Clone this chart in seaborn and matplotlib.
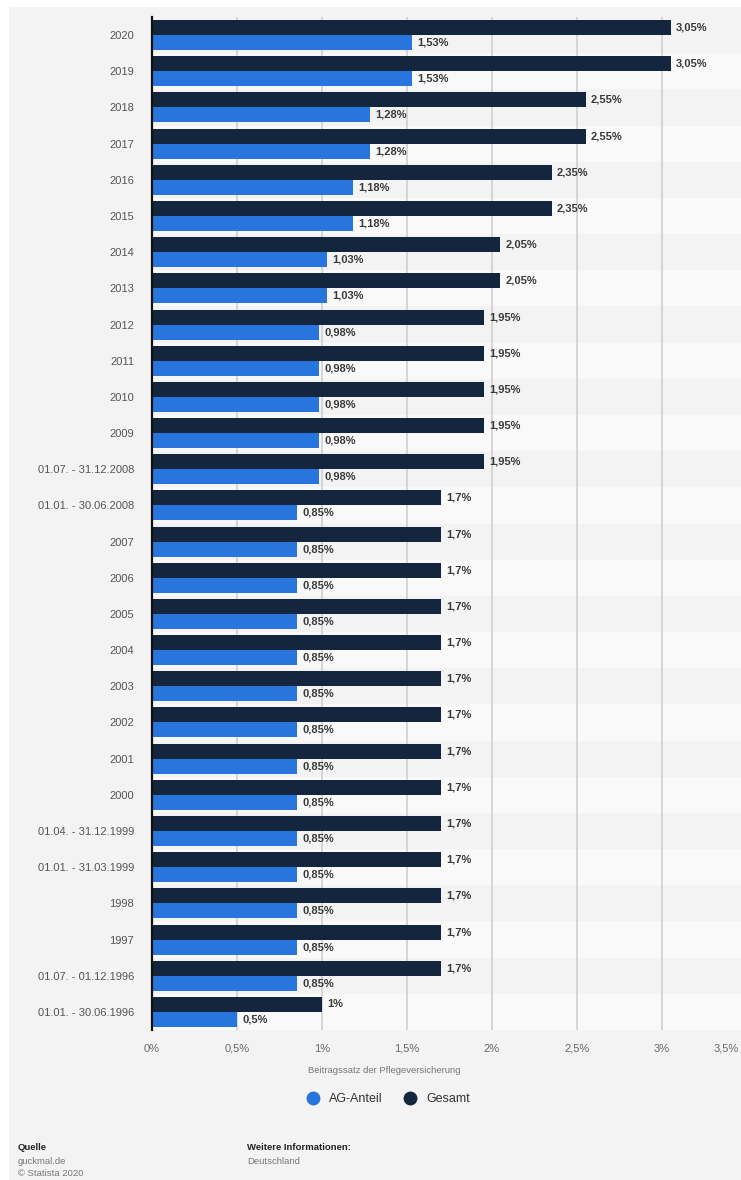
import matplotlib
matplotlib.use("Agg")
import matplotlib.pyplot as plt
from matplotlib.patches import Rectangle
from matplotlib.lines import Line2D
import seaborn as sns
import pandas as pd

# Beitragssatz der Pflegeversicherung, Zeitraeume von oben nach unten
zeitraeume = [
    "2020", "2019", "2018", "2017", "2016", "2015", "2014", "2013",
    "2012", "2011", "2010", "2009",
    "01.07. - 31.12.2008", "01.01. - 30.06.2008",
    "2007", "2006", "2005", "2004", "2003", "2002", "2001", "2000",
    "01.04. - 31.12.1999", "01.01. - 31.03.1999",
    "1998", "1997",
    "01.07. - 01.12.1996", "01.01. - 30.06.1996",
]
gesamt = [
    3.05, 3.05, 2.55, 2.55, 2.35, 2.35, 2.05, 2.05,
    1.95, 1.95, 1.95, 1.95,
    1.95, 1.7,
    1.7, 1.7, 1.7, 1.7, 1.7, 1.7, 1.7, 1.7,
    1.7, 1.7,
    1.7, 1.7,
    1.7, 1.0,
]
ag_anteil = [
    1.53, 1.53, 1.28, 1.28, 1.18, 1.18, 1.03, 1.03,
    0.98, 0.98, 0.98, 0.98,
    0.98, 0.85,
    0.85, 0.85, 0.85, 0.85, 0.85, 0.85, 0.85, 0.85,
    0.85, 0.85,
    0.85, 0.85,
    0.85, 0.5,
]
x_ticks = [0, 0.5, 1, 1.5, 2, 2.5, 3, 3.5]
reihen = ["Gesamt", "AG-Anteil"]
farben = {"Gesamt": "#13263d", "AG-Anteil": "#2876dd"}

df = pd.DataFrame({
    "Zeitraum": zeitraeume * 2,
    "Wert": gesamt + ag_anteil,
    "Reihe": ["Gesamt"] * len(zeitraeume) + ["AG-Anteil"] * len(zeitraeume),
})


def prozent(v):
    return f"{v:g}".replace(".", ",") + "%"


sns.set_theme(style="white")
plt.rcParams["font.family"] = ["Liberation Sans", "DejaVu Sans"]

W, H = 741, 1180
fig = plt.figure(figsize=(W / 100, H / 100), dpi=100, facecolor="white")
# grey panel behind everything
fig.patches.append(Rectangle((9 / W, 0), 1, 1 - 7 / H, transform=fig.transFigure,
                             facecolor="#f3f3f3", edgecolor="none", zorder=-10))

ax = fig.add_axes([152 / W, 1 - 1030 / H, 595 / W, 1013 / H])
ax.set_facecolor("none")

n = len(zeitraeume)
for i in range(n):
    ax.axhspan(i - 0.5, i + 0.5, color="#f3f3f3" if i % 2 == 0 else "#f9f9f9",
               zorder=0, lw=0)
for t in x_ticks[1:]:
    ax.axvline(t, color="#cfcfcf", lw=1.2, zorder=1)

sns.barplot(data=df, y="Zeitraum", x="Wert", hue="Reihe", hue_order=reihen,
            order=zeitraeume, palette=farben, orient="h", width=0.83,
            dodge=True, gap=0, legend=False, linewidth=0, saturation=1,
            errorbar=None, ax=ax, zorder=2)

for cont, werte in zip(ax.containers, [gesamt, ag_anteil]):
    ax.bar_label(cont, labels=[prozent(v) for v in werte], padding=4,
                 fontsize=8, fontweight="bold", color="#3a3a3a")

ax.set_xlim(0, 3.5)
ax.set_ylim(n - 0.5, -0.5)
ax.set_xticks(x_ticks)
# the last tick sits at the figure edge; its label is drawn pulled inward below
ax.set_xticklabels([prozent(t) for t in x_ticks[:-1]] + [""],
                   color="#666666", fontsize=8)
ax.annotate(prozent(x_ticks[-1]), xy=(x_ticks[-1], 0),
            xycoords=ax.get_xaxis_transform(), xytext=(-6, -13),
            textcoords="offset points", ha="right", va="center",
            fontsize=8, color="#666666", annotation_clip=False)
ax.tick_params(axis="x", length=0, pad=10)
ax.tick_params(axis="y", length=0, pad=13, labelsize=8, labelcolor="#555555")
ax.set_ylabel("")
ax.set_xlabel("Beitragssatz der Pflegeversicherung", fontsize=6.8,
              color="#777777")
ax.xaxis.set_label_coords(0.39, -0.036)
for s in ["top", "right", "bottom"]:
    ax.spines[s].set_visible(False)
ax.spines["left"].set_color("#111111")
ax.spines["left"].set_linewidth(1.6)
ax.spines["left"].set_zorder(3)

handles = [
    Line2D([], [], marker="o", linestyle="", markersize=10,
           markerfacecolor=farben["AG-Anteil"], markeredgewidth=0, label="AG-Anteil"),
    Line2D([], [], marker="o", linestyle="", markersize=10,
           markerfacecolor=farben["Gesamt"], markeredgewidth=0, label="Gesamt"),
]
fig.legend(handles=handles, loc="center", bbox_to_anchor=(385 / W, 1 - 1099 / H),
           ncol=2, frameon=False, fontsize=9, handletextpad=0.3,
           columnspacing=1.2, labelcolor="#333333")

fs = 6.8
fig.text(18 / W, 1 - 1148 / H, "Quelle", fontsize=fs, fontweight="bold",
         color="#222222", va="center")
fig.text(18 / W, 1 - 1161 / H, "guckmal.de", fontsize=fs, color="#777777", va="center")
fig.text(18 / W, 1 - 1173 / H, "© Statista 2020", fontsize=fs, color="#777777", va="center")
fig.text(247 / W, 1 - 1148 / H, "Weitere Informationen:", fontsize=fs,
         fontweight="bold", color="#222222", va="center")
fig.text(247 / W, 1 - 1161 / H, "Deutschland", fontsize=fs, color="#777777", va="center")

fig.savefig("out.png", dpi=100, facecolor="white")
